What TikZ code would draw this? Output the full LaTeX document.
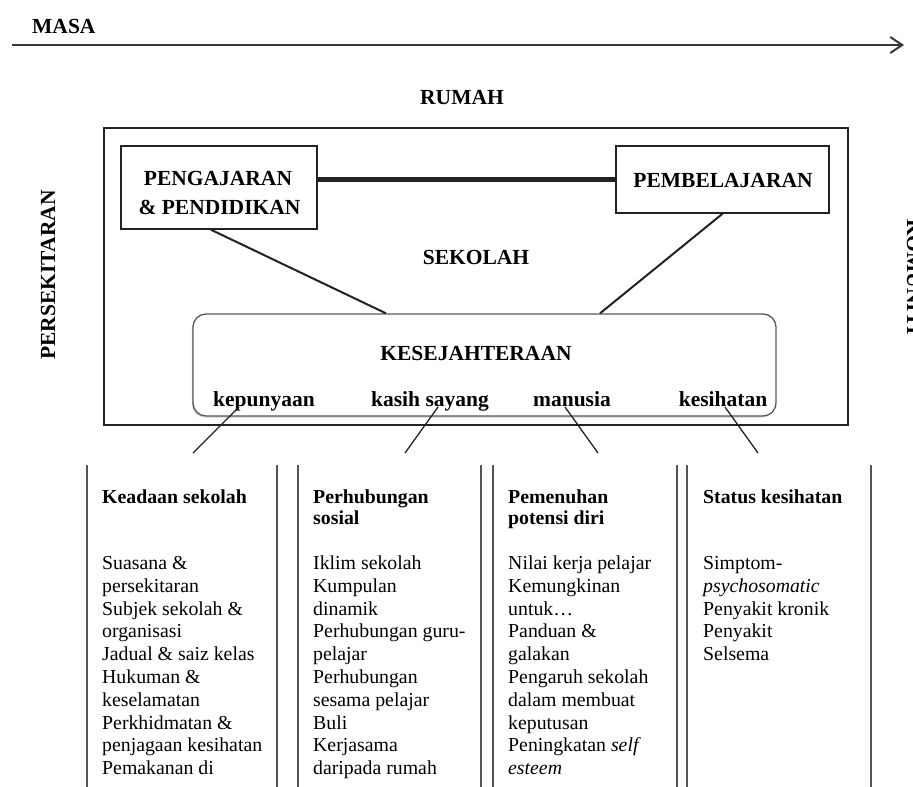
\documentclass[tikz,border=0pt]{standalone}
\usepackage{fontspec}
\setmainfont{Liberation Serif}
\usetikzlibrary{arrows.meta,shadows,calc}
\definecolor{ink}{HTML}{222222}
\definecolor{colline}{HTML}{555555}
\begin{document}
\begin{tikzpicture}[x=1pt,y=-1pt,
  lbl/.style={font=\fontsize{21.5}{26}\selectfont\bfseries, inner sep=0pt, text=black},
  colhead/.style={font=\fontsize{19.8}{21.5}\selectfont\bfseries, inner sep=0pt, anchor=base west},
  colbody/.style={font=\fontsize{19.8}{22.8}\selectfont, inner sep=0pt, anchor=base west},
  frame/.style={draw=ink, line width=1.5pt, inner sep=0pt},
  link/.style={draw=ink, line width=2pt},
  thin/.style={draw=ink, line width=1.3pt},
  colrule/.style={draw=colline, line width=2pt}
]
\useasboundingbox (0,0) rectangle (913,787);

% time arrow
\node[lbl, anchor=base west] (masa) at (32,33) {MASA};
\coordinate (t0) at (12,45);
\coordinate (t1) at (904,45);
\draw[draw=ink!90, line width=2pt, -{Straight Barb[length=12pt,width=16pt,line width=2pt]}] (t0) -- (t1);

\node[lbl, anchor=base] (rumah) at (462,104) {RUMAH};

% outer school frame
\node[frame, minimum width=744pt, minimum height=297pt] (sekolahbox) at (476,276.5) {};

% side labels
\node[lbl, rotate=90, anchor=base] (persekitaran) at (55,275) {PERSEKITARAN};
\node[lbl, rotate=-90, anchor=base] (komuniti) at (907,277) {KOMUNITI};

% top boxes
\node[frame, minimum width=196pt, minimum height=83pt] (pb) at (219,187.5) {};
\node[lbl, anchor=base] (pbt1) at (218,185.5) {PENGAJARAN};
\node[lbl, anchor=base] (pbt2) at (219.5,214) {\& PENDIDIKAN};

\node[frame, minimum width=213pt, minimum height=67pt] (rb) at (722.5,179.5) {};
\node[lbl, anchor=base] (rbt) at (723,187) {PEMBELAJARAN};

\draw[draw=ink, line width=4.5pt] (pb.east |- rb.west) -- (rb.west);

\node[lbl, anchor=base] (sekolah) at (476,264) {SEKOLAH};

% wellbeing box
\node[draw=ink!75, line width=1.3pt, rounded corners=13pt, minimum width=583pt, minimum height=102pt,
      drop shadow={shadow xshift=-1.2pt, shadow yshift=-1.5pt, opacity=0.35}, fill=white] (kes) at (484.5,365) {};
\node[lbl, anchor=base] (kest) at (476,360.5) {KESEJAHTERAAN};

\draw[link] ([xshift=-8pt]pb.south) -- ([xshift=-98.5pt]kes.north);
\draw[link] (rb.south) -- ([xshift=115.5pt]kes.north);

\node[lbl, anchor=base] (w1) at (264,406) {kepunyaan};
\node[lbl, anchor=base] (w2) at (430,406) {kasih sayang};
\node[lbl, anchor=base] (w3) at (572,406) {manusia};
\node[lbl, anchor=base] (w4) at (723,406) {kesihatan};

\coordinate (e1) at (193,453);
\coordinate (e2) at (405,453);
\coordinate (e3) at (598,453);
\coordinate (e4) at (758,453);
\draw[thin] ([xshift=-25pt,yshift=-1pt]w1.base) -- (e1);
\draw[thin] ([xshift=8pt,yshift=-1pt]w2.base) -- (e2);
\draw[thin] ([xshift=-7pt,yshift=-1pt]w3.base) -- (e3);
\draw[thin] ([xshift=2pt,yshift=-1pt]w4.base) -- (e4);

% column rules
\foreach \cx in {87,277,298,481,493,677,687,871}
  \draw[colrule] (\cx,465) -- (\cx,787);

% column 1
\node[colhead] (h1) at (102,503) {Keadaan sekolah};
\node[colbody] (b1) at (102,569.5) {\begin{tabular}[t]{@{}l@{}}
Suasana \&\\ persekitaran\\ Subjek sekolah \&\\ organisasi\\ Jadual \& saiz kelas\\
Hukuman \&\\ keselamatan\\ Perkhidmatan \&\\ penjagaan kesihatan\\ Pemakanan di\end{tabular}};

% column 2
\node[colhead] (h2) at (313,503) {\begin{tabular}[t]{@{}l@{}}Perhubungan\\ sosial\end{tabular}};
\node[colbody] (b2) at (313,569.5) {\begin{tabular}[t]{@{}l@{}}
Iklim sekolah\\ Kumpulan\\ dinamik\\ Perhubungan guru-\\ pelajar\\
Perhubungan\\ sesama pelajar\\ Buli\\ Kerjasama\\ daripada rumah\end{tabular}};

% column 3
\node[colhead] (h3) at (508,503) {\begin{tabular}[t]{@{}l@{}}Pemenuhan\\ potensi diri\end{tabular}};
\node[colbody] (b3) at (508,569.5) {\begin{tabular}[t]{@{}l@{}}
Nilai kerja pelajar\\ Kemungkinan\\ untuk…\\ Panduan \&\\ galakan\\
Pengaruh sekolah\\ dalam membuat\\ keputusan\\ Peningkatan \textit{self}\\ \textit{esteem}\end{tabular}};

% column 4
\node[colhead] (h4) at (703,503) {Status kesihatan};
\node[colbody] (b4) at (703,569.5) {\begin{tabular}[t]{@{}l@{}}
Simptom-\\ \textit{psychosomatic}\\ Penyakit kronik\\ Penyakit\\ Selsema\end{tabular}};
\end{tikzpicture}
\end{document}
